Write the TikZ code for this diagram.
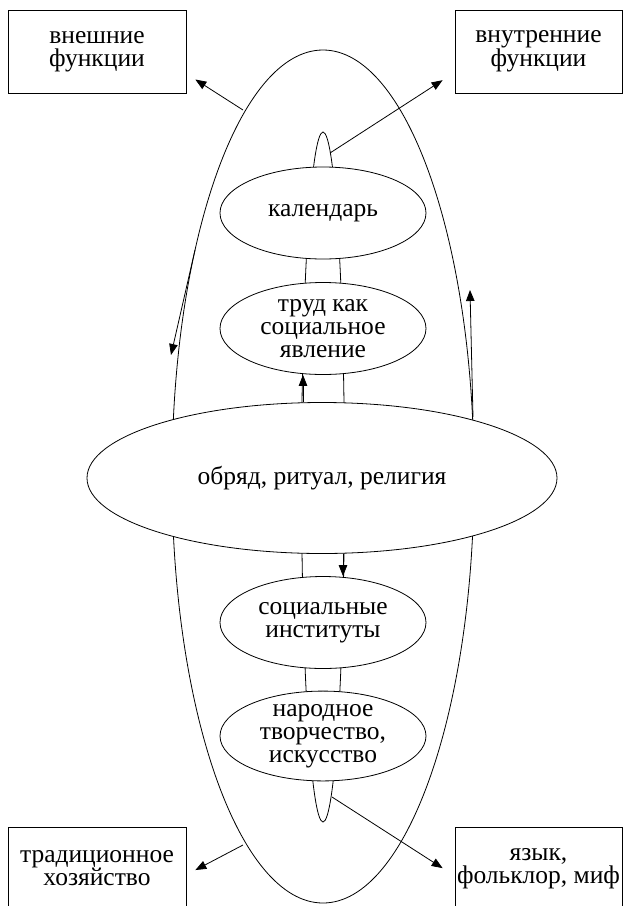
\documentclass[tikz,border=0pt]{standalone}
\usepackage{fontspec}
\setmainfont{Liberation Serif}
\usetikzlibrary{shapes.geometric,arrows.meta}

\tikzset{
    oval/.style={ellipse, draw, fill=white, line width=0.8pt, inner sep=0pt,
        minimum width=206, minimum height=92, align=center},
    funcbox/.style={rectangle, draw, line width=0.8pt, inner sep=0pt,
        minimum height=83, align=center},
}

\begin{document}
\begin{tikzpicture}[x=1pt,y=-1pt, line width=0.8pt,
        >={Triangle[length=11pt,width=8.5pt]},
        every node/.style={font=\fontsize{25.5}{23}\selectfont}]
        \useasboundingbox (0,0) rectangle (630,906);

        % the two outer ellipses
        \draw (323,476.5) ellipse [x radius=151, y radius=426.5];
        \draw (323,477) ellipse [x radius=21.5, y radius=345];

        \node[funcbox, minimum width=178] (ext) at (97,51.5) {внешние\\функции};
        \node[funcbox, minimum width=167] (int) at (538.5,51.5) {внутренние\\функции};
        \node[funcbox, minimum width=178] (eco) at (97,868.5) {традиционное\\хозяйство};
        \node[funcbox, minimum width=167] (lang) at (538.5,868.5) {язык,\\фольклор, миф};

        \node[oval] (cal) at (323,213) {календарь};
        \node[oval] (trud) at (323,328.5) {труд как\\социальное\\явление};
        \node[oval, minimum width=470, minimum height=151] (obr) at (322,478) {обряд, ритуал, религия};
        \node[oval] (soc) at (323,622.5) {социальные\\институты};
        \node[oval, minimum height=88] (nar) at (323,736) {народное\\творчество,\\искусство};

        \coordinate (E1) at (243,110);
        \coordinate (E2) at (330,153);
        \coordinate (E3) at (332,797);
        \coordinate (E4) at (243,845);
        \coordinate (L1) at (195,250);
        \coordinate (L2) at (171,355);
        \coordinate (R1) at (473,417);
        \coordinate (R2) at (470,290);

        \draw[->, shorten >=10.6pt] (E1) -- (ext.-14);
        \draw[->, shorten >=14.3pt] (E2) -- (int.194);
        \draw[->, shorten >=14.2pt] (E3) -- (lang.185);
        \draw[->, shorten >=10.1pt] (E4) -- (eco.-4);

        \draw[->] (L1) -- (L2);
        \draw[->] (R1) -- (R2);
        \draw[->] ([xshift=-19pt]obr.north) -- ([xshift=-20pt]trud.south);
        \draw[->] ([xshift=21pt]obr.south) -- ([xshift=20pt]soc.north);
\end{tikzpicture}
\end{document}
